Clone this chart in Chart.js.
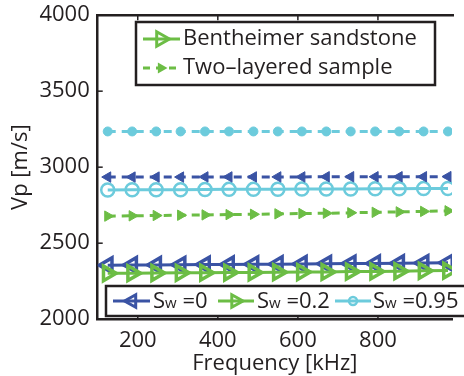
<!DOCTYPE html>
<html>
<head>
<meta charset="utf-8">
<script src="https://cdn.jsdelivr.net/npm/chart.js@4.4.1/dist/chart.umd.min.js"></script>
<style>
  html, body { margin: 0; padding: 0; background: #fff; }
  #wrap { width: 464px; height: 376px; position: relative; overflow: hidden; }
</style>
</head>
<body>
<div id="wrap"><canvas id="vpChart"></canvas></div>
<script>
// frequencies [kHz] of the markers
const freq = [125, 186, 246, 307, 368, 428, 489, 550, 610, 671, 732, 793, 853, 914, 975];

// Bentheimer sandstone (solid)
const bentSw0   = [2355, 2357, 2357, 2358, 2359, 2360, 2361, 2362, 2363, 2364, 2366, 2367, 2368, 2369, 2371];
const bentSw02  = [2302, 2303, 2304, 2305, 2306, 2307, 2308, 2309, 2310, 2311, 2313, 2314, 2316, 2318, 2320];
const bentSw095 = [2850, 2851, 2852, 2852, 2853, 2854, 2854, 2855, 2856, 2856, 2857, 2858, 2858, 2859, 2860];

// Two-layered sample (dashed)
const twoSw0   = [2935, 2935, 2935, 2935, 2936, 2936, 2936, 2936, 2936, 2937, 2937, 2937, 2937, 2937, 2938];
const twoSw02  = [2678, 2680, 2682, 2684, 2686, 2688, 2690, 2693, 2695, 2697, 2700, 2703, 2706, 2709, 2713];
const twoSw095 = [3235, 3235, 3235, 3235, 3235, 3235, 3235, 3235, 3235, 3235, 3235, 3235, 3235, 3235, 3235];

const xTicks = [200, 400, 600, 800];
const yTicks = [2000, 2500, 3000, 3500, 4000];

const BLUE = '#3a53a4';
const GREEN = '#6cbd45';
const CYAN = '#6ccbdc';
const INK = '#231f20';
const FONT = "'Open Sans', 'Noto Sans', sans-serif";
const FS = 22;

function pts(ys) {
    return freq.map((f, i) => ({ x: f, y: ys[i] }));
}

function solid(label, ys, color, style, rot) {
    return {
        label: label, data: pts(ys),
        borderColor: color, borderWidth: 3,
        pointStyle: style, rotation: rot,
        pointRadius: style === 'circle' ? 6.5 : 8.5,
        pointBorderWidth: style === 'circle' ? 2.5 : 3.5,
        pointBackgroundColor: 'rgba(255,255,255,0)',
        pointBorderColor: color
    };
}

function dashed(label, ys, color, style, rot) {
    return {
        label: label, data: pts(ys),
        borderColor: color, borderWidth: 3, borderDash: [8, 6],
        pointStyle: style, rotation: rot,
        pointRadius: style === 'circle' ? 4.5 : 6,
        pointBorderWidth: 1,
        pointBackgroundColor: color,
        pointBorderColor: color
    };
}

// small helper to draw a legend marker
function marker(ctx, kind, x, y, color, filled, r) {
    ctx.save();
    ctx.strokeStyle = color;
    ctx.fillStyle = color;
    ctx.lineWidth = kind === 'circle' ? 2.5 : 3;
    ctx.beginPath();
    if (kind === 'circle') {
        ctx.arc(x, y, r, 0, Math.PI * 2);
    } else {
        const dir = kind === 'right' ? 1 : -1;
        ctx.moveTo(x + dir * r, y);
        ctx.lineTo(x - dir * r * 0.6, y - r * 0.9);
        ctx.lineTo(x - dir * r * 0.6, y + r * 0.9);
        ctx.closePath();
    }
    if (filled) ctx.fill(); else ctx.stroke();
    ctx.restore();
}

function sample(ctx, x0, x1, y, color, dash, kind, filled, r) {
    ctx.save();
    ctx.strokeStyle = color;
    ctx.lineWidth = 3;
    if (dash) ctx.setLineDash([7, 6]);
    ctx.beginPath();
    ctx.moveTo(x0, y);
    ctx.lineTo(x1, y);
    ctx.stroke();
    ctx.restore();
    marker(ctx, kind, (x0 + x1) / 2, y, color, filled, r);
}

function swLabel(ctx, x, y, rest) {
    ctx.font = FS + 'px ' + FONT;
    ctx.fillText('S', x, y);
    let w = ctx.measureText('S').width;
    ctx.font = '15px ' + FONT;
    ctx.fillText('w', x + w, y + 2);
    w += ctx.measureText('w').width;
    ctx.font = FS + 'px ' + FONT;
    ctx.fillText(' ' + rest, x + w, y);
}

const framePlugin = {
    id: 'frame',
    afterDatasetsDraw(chart) {
        const { ctx, chartArea: a, scales } = chart;
        ctx.save();
        // top border
        ctx.strokeStyle = INK;
        ctx.lineWidth = 2.5;
        ctx.beginPath();
        ctx.moveTo(a.left - 1, a.top);
        ctx.lineTo(a.right + 2, a.top);
        ctx.stroke();
        // inner ticks
        ctx.lineWidth = 1.5;
        xTicks.forEach(v => {
            const px = scales.x.getPixelForValue(v);
            ctx.beginPath();
            ctx.moveTo(px, a.top); ctx.lineTo(px, a.top + 5);
            ctx.moveTo(px, a.bottom); ctx.lineTo(px, a.bottom - 5);
            ctx.stroke();
        });
        yTicks.forEach(v => {
            const py = scales.y.getPixelForValue(v);
            ctx.beginPath();
            ctx.moveTo(a.left, py); ctx.lineTo(a.left + 5, py);
            ctx.stroke();
        });

        // legend 1: samples
        ctx.fillStyle = '#fff';
        ctx.fillRect(136, 22, 299, 63);
        ctx.strokeStyle = INK;
        ctx.lineWidth = 2.5;
        ctx.strokeRect(136, 22, 299, 63);
        sample(ctx, 143, 180, 39, GREEN, false, 'right', false, 8);
        sample(ctx, 143, 180, 68, GREEN, true, 'right', true, 6);
        ctx.fillStyle = INK;
        ctx.textBaseline = 'middle';
        ctx.font = FS + 'px ' + FONT;
        ctx.fillText('Bentheimer sandstone', 183, 39);
        ctx.fillText('Two\u2013layered sample', 183, 68);

        // legend 2: saturation
        ctx.fillStyle = '#fff';
        ctx.fillRect(106, 286, 370, 30);
        ctx.strokeStyle = INK;
        ctx.lineWidth = 2.5;
        ctx.strokeRect(106, 286, 370, 30);
        sample(ctx, 113, 150, 301, BLUE, false, 'left', false, 7);
        sample(ctx, 218, 254, 301, GREEN, false, 'right', false, 7);
        sample(ctx, 335, 371, 301, CYAN, false, 'circle', false, 4);
        ctx.fillStyle = INK;
        swLabel(ctx, 153, 302, '=0');
        swLabel(ctx, 257, 302, '=0.2');
        swLabel(ctx, 373, 302, '=0.95');
        ctx.restore();
    }
};

const ctx = document.getElementById('vpChart').getContext('2d');
new Chart(ctx, {
    type: 'line',
    data: {
        datasets: [
            dashed('Two-layered Sw=0.95', twoSw095, CYAN, 'circle', 0),
            dashed('Two-layered Sw=0', twoSw0, BLUE, 'triangle', -90),
            dashed('Two-layered Sw=0.2', twoSw02, GREEN, 'triangle', 90),
            solid('Bentheimer Sw=0.95', bentSw095, CYAN, 'circle', 0),
            solid('Bentheimer Sw=0.2', bentSw02, GREEN, 'triangle', 90),
            solid('Bentheimer Sw=0', bentSw0, BLUE, 'triangle', -90)
        ]
    },
    options: {
        responsive: true,
        maintainAspectRatio: false,
        animation: false,
        layout: { padding: { top: 0, right: 0, left: 8, bottom: 1 } },
        plugins: { legend: { display: false }, tooltip: { enabled: false } },
        scales: {
            x: {
                type: 'linear', min: 100, max: 985,
                afterBuildTicks: s => { s.ticks = xTicks.map(v => ({ value: v })); },
                grid: { display: false, drawTicks: false },
                border: { display: true, color: INK, width: 2.5 },
                ticks: { color: INK, font: { family: FONT, size: FS }, padding: 8, maxRotation: 0,
                         callback: v => String(v) },
                title: { display: true, text: 'Frequency [kHz]', color: INK,
                         font: { family: FONT, size: FS }, padding: { top: -11, bottom: -2 } }
            },
            y: {
                min: 2000, max: 4000,
                afterBuildTicks: s => { s.ticks = yTicks.map(v => ({ value: v })); },
                grid: { display: false, drawTicks: false },
                border: { display: true, color: INK, width: 2.5 },
                ticks: { color: INK, font: { family: FONT, size: FS, lineHeight: 0.65 }, padding: 8,
                         callback: v => String(v) },
                title: { display: true, text: 'Vp [m/s]', color: INK,
                         font: { family: FONT, size: FS }, padding: { top: 0, bottom: -3 } }
            }
        }
    },
    plugins: [framePlugin]
});
</script>
</body>
</html>
